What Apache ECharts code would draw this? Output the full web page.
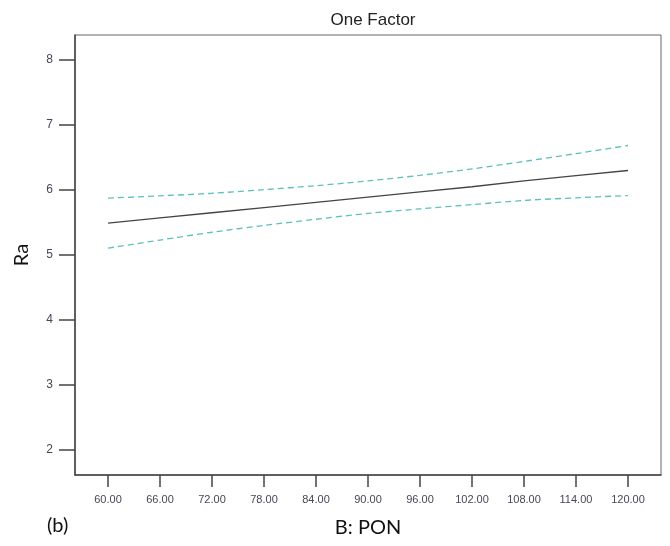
<!DOCTYPE html>
<html>
<head>
<meta charset="utf-8">
<script src="https://cdn.jsdelivr.net/npm/echarts@6/dist/echarts.min.js"></script>
<style>html,body{margin:0;padding:0;background:#fff}#c{width:670px;height:546px}</style>
</head>
<body>
<div id="c"></div>
<script>
const xValues = [60, 66, 72, 78, 84, 90, 96, 102, 108, 114, 120];
const predicted = [5.49, 5.57, 5.65, 5.73, 5.81, 5.89, 5.97, 6.05, 6.14, 6.22, 6.30];
const upperCI = [5.875, 5.91, 5.95, 6.005, 6.066, 6.14, 6.226, 6.325, 6.44, 6.56, 6.685];
const lowerCI = [5.105, 5.23, 5.35, 5.455, 5.55, 5.64, 5.71, 5.775, 5.84, 5.88, 5.915];
const xTicks = [60, 66, 72, 78, 84, 90, 96, 102, 108, 114, 120];
const yTicks = [2, 3, 4, 5, 6, 7, 8];

const pair = arr => xValues.map((x, i) => [x, arr[i]]);
const chart = echarts.init(document.getElementById('c'));
chart.setOption({
  animation: false,
  title: {
    text: 'One Factor', left: 368, textAlign: 'center', top: 7,
    textStyle: { fontFamily: '"Liberation Sans"', fontSize: 17, fontWeight: 'normal', color: '#222' }
  },
  grid: { left: 75, top: 35, right: 9, bottom: 71, show: true, borderColor: '#666', borderWidth: 1,
          containLabel: false, outerBoundsMode: 'none' },
  xAxis: {
    type: 'value', min: 56.19, max: 123.81,
    splitLine: { show: false },
    axisLine: { show: true, lineStyle: { color: '#444', width: 1.5 } },
    axisTick: { show: true, length: 12, customValues: xTicks, lineStyle: { color: '#444', width: 1.5 } },
    axisLabel: {
      customValues: xTicks, margin: 19, fontSize: 11, color: '#4a4458',
      fontFamily: '"Liberation Sans"',
      formatter: v => v.toFixed(2)
    },
    name: 'B: PON', nameLocation: 'middle', nameGap: 43,
    nameTextStyle: { fontFamily: 'Lato', fontSize: 20, color: '#111' }
  },
  yAxis: {
    type: 'value', min: 1.615, max: 8.385,
    splitLine: { show: false },
    axisLine: { show: true, lineStyle: { color: '#444', width: 1.5 } },
    axisTick: { show: true, length: 16, customValues: yTicks, lineStyle: { color: '#444', width: 1.5 } },
    axisLabel: {
      customValues: yTicks, margin: 22, fontSize: 12, color: '#4a4458',
      fontFamily: '"Liberation Sans"'
    },
    name: 'Ra', nameLocation: 'middle', nameGap: 43, nameRotate: 90,
    nameTextStyle: { fontFamily: 'Lato', fontSize: 20, color: '#111' }
  },
  graphic: [{
    type: 'text', left: 47, top: 516,
    style: { text: '(b)', font: '20px Lato', fill: '#111' }
  }],
  series: [
    { type: 'line', data: pair(upperCI), symbol: 'none', smooth: 0.3,
      lineStyle: { color: '#5dbfbf', width: 1.3, type: [6, 4] } },
    { type: 'line', data: pair(lowerCI), symbol: 'none', smooth: 0.3,
      lineStyle: { color: '#5dbfbf', width: 1.3, type: [6, 4] } },
    { type: 'line', data: pair(predicted), symbol: 'none',
      lineStyle: { color: '#444', width: 1.3 } }
  ]
});
</script>
</body>
</html>
